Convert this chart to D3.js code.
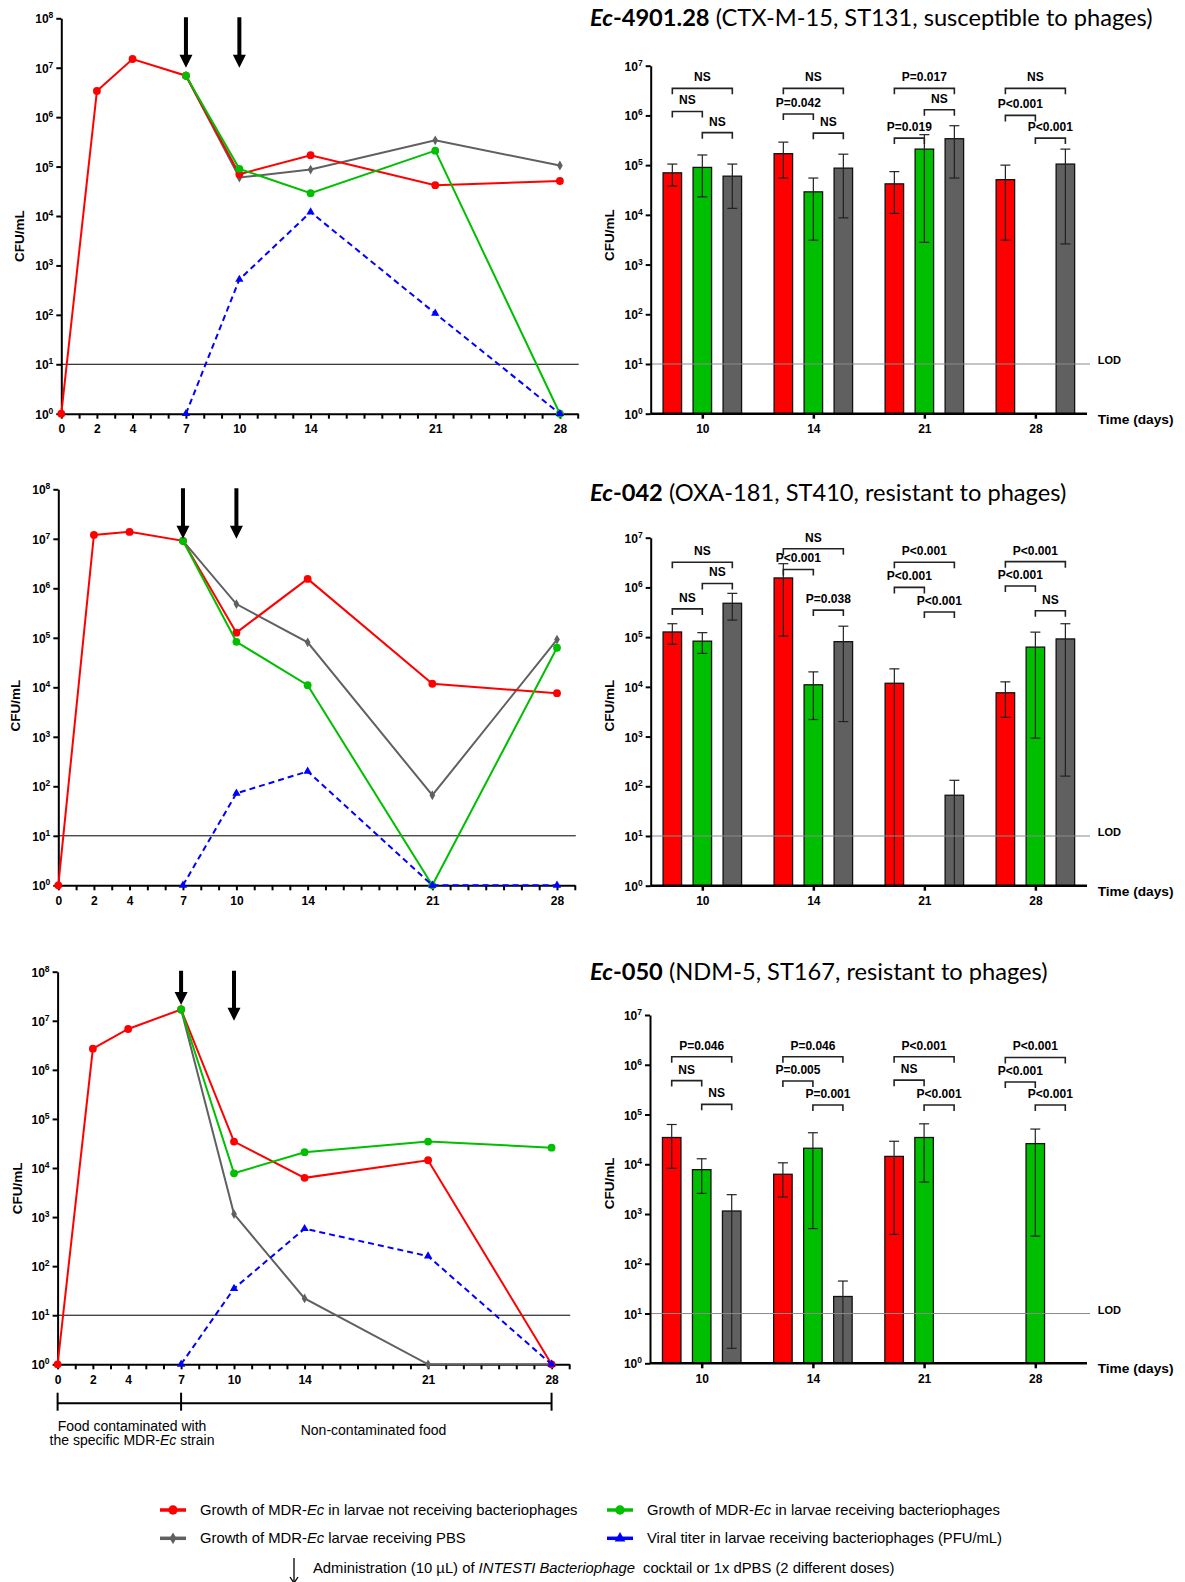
<!DOCTYPE html>
<html>
<head>
<meta charset="utf-8">
<script src="https://cdn.jsdelivr.net/npm/d3@7"></script>
<style>
  body { margin: 0; background: #fff; }
  svg { display: block; font-family: "Liberation Sans", Arial, sans-serif; }
</style>
</head>
<body>
<svg id="fig" width="1185" height="1582"></svg>
<script>
// sampling days and axis labels
const days = [0, 2, 4, 7, 10, 14, 21, 28];
const labeledDays = [0, 2, 4, 7, 10, 14, 21, 28];
const barDays = ["10", "14", "21", "28"];
const lineDecades = [1e0, 1e1, 1e2, 1e3, 1e4, 1e5, 1e6, 1e7, 1e8];
const barDecades = [1e0, 1e1, 1e2, 1e3, 1e4, 1e5, 1e6, 1e7];
const lod = 10;

// Ec-4901.28 (CFU/mL, 1 = not detected)
const red1 = [1, 3.4e6, 1.5e7, 6.9e6, 7.0e4, 1.7e5, 4.2e4, 5.1e4];
const green1 = [null, null, null, 6.9e6, 9.0e4, 2.9e4, 2.1e5, 1];
const gray1 = [null, null, null, 6.9e6, 6.0e4, 8.7e4, 3.4e5, 1.05e5];
const blue1 = [null, null, null, 1, 5.2e2, 1.2e4, 1.07e2, 1];
const redErr1 = [[3.8e4, 1.05e5], [5.5e4, 2.9e5], [1.07e4, 7.4e4], [3.1e3, 1.0e5]];
const greenErr1 = [[2.3e4, 1.6e5], [3.1e3, 5.5e4], [2.8e3, 4.1e5], null];
const grayErr1 = [[1.35e4, 1.05e5], [8.7e3, 1.66e5], [5.5e4, 6.2e5], [2.6e3, 2.1e5]];
// [time, bar a, bar b, label, level]
const brackets1 = [
  ["10", 0, 2, "NS", 3.5e6], ["10", 0, 1, "NS", 1.2e6], ["10", 1, 2, "NS", 4.5e5],
  ["14", 0, 2, "NS", 3.5e6], ["14", 0, 1, "P=0.042", 1.07e6], ["14", 1, 2, "NS", 4.4e5],
  ["21", 0, 2, "P=0.017", 3.5e6], ["21", 1, 2, "NS", 1.3e6], ["21", 0, 1, "P=0.019", 3.5e5],
  ["28", 0, 2, "NS", 3.5e6], ["28", 0, 1, "P<0.001", 1.0e6], ["28", 1, 2, "P<0.001", 3.5e5]
];
const arrows1 = [[7, 1e7], [10, 1e7]];

// Ec-042
const red2 = [1, 1.2e7, 1.38e7, 9.1e6, 1.27e5, 1.55e6, 1.18e4, 7.6e3];
const green2 = [null, null, null, 9.1e6, 8.3e4, 1.1e4, 1, 6.3e4];
const gray2 = [null, null, null, 9.1e6, 4.8e5, 8.1e4, 66, 9.2e4];
const blue2 = [null, null, null, 1, 72, 2.0e2, 1, 1];
const redErr2 = [[7.2e4, 1.86e5], [1.05e5, 3.0e6], [1, 2.3e4], [2.45e3, 1.26e4]];
const greenErr2 = [[4.7e4, 1.23e5], [2.2e3, 2.0e4], null, [9.3e2, 1.26e5]];
const grayErr2 = [[2.2e5, 7.6e5], [2.0e3, 1.66e5], [1, 1.32e2], [1.6e2, 1.86e5]];
const brackets2 = [
  ["10", 0, 2, "NS", 3.2e6], ["10", 1, 2, "NS", 1.2e6], ["10", 0, 1, "NS", 3.7e5],
  ["14", 0, 2, "NS", 6.0e6], ["14", 0, 1, "P<0.001", 2.3e6], ["14", 1, 2, "P=0.038", 3.5e5],
  ["21", 0, 2, "P<0.001", 3.2e6], ["21", 0, 1, "P<0.001", 1.0e6], ["21", 1, 2, "P<0.001", 3.2e5],
  ["28", 0, 2, "P<0.001", 3.3e6], ["28", 0, 1, "P<0.001", 1.07e6], ["28", 1, 2, "NS", 3.4e5]
];
const arrows2 = [[7, 1e7], [10, 1e7]];

// Ec-050
const red3 = [1, 2.7e6, 6.8e6, 1.7e7, 3.45e4, 6.3e3, 1.44e4, 1];
const green3 = [null, null, null, 1.7e7, 7.8e3, 2.1e4, 3.45e4, 2.6e4];
const gray3 = [null, null, null, 1.7e7, 1.15e3, 22, 1, 1];
const blue3 = [null, null, null, 1, 35, 5.8e2, 1.6e2, 1];
const redErr3 = [[8.3e3, 6.3e4], [2.2e3, 1.07e4], [3.9e2, 2.9e4], null];
const greenErr3 = [[2.6e3, 1.29e4], [5.1e2, 4.3e4], [4.4e3, 6.5e4], [3.6e2, 5.1e4]];
const grayErr3 = [[2, 2.45e3], [1, 45], null, null];
const brackets3 = [
  ["10", 0, 2, "P=0.046", 1.45e6], ["10", 0, 1, "NS", 4.8e5], ["10", 1, 2, "NS", 1.6e5],
  ["14", 0, 2, "P=0.046", 1.45e6], ["14", 0, 1, "P=0.005", 4.7e5], ["14", 1, 2, "P=0.001", 1.55e5],
  ["21", 0, 2, "P<0.001", 1.45e6], ["21", 0, 1, "NS", 4.9e5], ["21", 1, 2, "P<0.001", 1.55e5],
  ["28", 0, 2, "P<0.001", 1.4e6], ["28", 0, 1, "P<0.001", 4.5e5], ["28", 1, 2, "P<0.001", 1.55e5]
];
const arrows3 = [[7, 2.1e7], [10, 1e7]];

const titles = [
  ["Ec", "-4901.28", " (CTX-M-15, ST131, susceptible to phages)"],
  ["Ec", "-042", " (OXA-181, ST410, resistant to phages)"],
  ["Ec", "-050", " (NDM-5, ST167, resistant to phages)"]
];

const colors = { red: "#ff0000", green: "#00bf00", gray: "#606060", blue: "#0000ff" };

const panels = [
  { red: red1, green: green1, gray: gray1, blue: blue1, errs: [redErr1, greenErr1, grayErr1], brackets: brackets1, arrows: arrows1, title: titles[0],
    line: { x0: 61.3, x29: 577.7, top: 18.3, bottom: 413.7, labX: 18.8, labY: 236 },
    bar: { left: 650.7, right: 1087, top: 65.7, bottom: 413.7, labX: 609, labY: 235 }, titleBase: 26 },
  { red: red2, green: green2, gray: gray2, blue: blue2, errs: [redErr2, greenErr2, grayErr2], brackets: brackets2, arrows: arrows2, title: titles[1],
    line: { x0: 58.3, x29: 574.8, top: 489.3, bottom: 885.3, labX: 15, labY: 705.7 },
    bar: { left: 650.7, right: 1087, top: 537.7, bottom: 885.7, labX: 609, labY: 705.7 }, titleBase: 501 },
  { red: red3, green: green3, gray: gray3, blue: blue3, errs: [redErr3, greenErr3, grayErr3], brackets: brackets3, arrows: arrows3, title: titles[2],
    line: { x0: 57.6, x29: 569.2, top: 971.7, bottom: 1364.3, labX: 17, labY: 1188.3 },
    bar: { left: 650, right: 1087, top: 1015, bottom: 1363.3, labX: 609, labY: 1183.3 }, titleBase: 980 }
];

const svg = d3.select("#fig");

function powLabel(sel, v) {
    sel.append("tspan").text("10");
    sel.append("tspan").attr("dy", -5).attr("font-size", 8.5).text(Math.round(Math.log10(v)));
}

function yLabel(x, y) {
    svg.append("text")
        .attr("transform", `translate(${x + 4.7},${y}) rotate(-90)`)
        .attr("text-anchor", "middle")
        .attr("font-weight", "bold")
        .attr("font-size", 13.5)
        .text("CFU/mL");
}

function drawLinePanel(p) {
    const L = p.line;
    const x = d3.scaleLinear().domain([0, 29]).range([L.x0, L.x29]);
    const y = d3.scaleLog().domain([1, 1e8]).range([L.bottom, L.top]);
    const g = svg.append("g");

    g.append("line")
        .attr("x1", x(0)).attr("x2", x(29) + 1)
        .attr("y1", y(lod)).attr("y2", y(lod))
        .attr("stroke", "#000").attr("stroke-width", 1);

    const yAxis = g.append("g")
        .attr("transform", `translate(${x(0)},0)`)
        .call(d3.axisLeft(y).tickValues(lineDecades).tickSize(5).tickSizeOuter(0).tickFormat(""));
    yAxis.selectAll("path,line").attr("stroke", "#000").attr("stroke-width", 2);
    lineDecades.forEach(v => {
        g.append("text")
            .attr("x", x(0) - 8).attr("y", y(v) + 5)
            .attr("text-anchor", "end")
            .attr("font-weight", "bold").attr("font-size", 12)
            .call(powLabel, v);
    });

    const xAxis = g.append("g")
        .attr("transform", `translate(0,${L.bottom})`)
        .call(d3.axisBottom(x).tickValues(d3.range(0, 30)).tickSize(5).tickSizeOuter(0)
            .tickFormat(d => labeledDays.includes(d) ? d : ""));
    xAxis.selectAll("path,line").attr("stroke", "#000").attr("stroke-width", 2);
    xAxis.selectAll("text").attr("y", 11)
        .attr("font-family", "Liberation Sans, Arial, sans-serif")
        .attr("font-weight", "bold").attr("font-size", 12).attr("fill", "#000");

    yLabel(L.labX, L.labY);

    const series = [
        { v: p.gray, c: colors.gray, s: d3.symbolDiamond, size: 28, dash: null },
        { v: p.red, c: colors.red, s: d3.symbolCircle, size: 48, dash: null },
        { v: p.green, c: colors.green, s: d3.symbolCircle, size: 48, dash: null },
        { v: p.blue, c: colors.blue, s: d3.symbolTriangle, size: 30, dash: "6,4" }
    ];
    series.forEach(s => {
        const pts = days.map((d, i) => [d, s.v[i]]).filter(d => d[1] != null);
        g.append("path")
            .datum(pts)
            .attr("fill", "none")
            .attr("stroke", s.c)
            .attr("stroke-width", 2)
            .attr("stroke-dasharray", s.dash)
            .attr("d", d3.line().x(d => x(d[0])).y(d => y(d[1])));
        g.selectAll(null)
            .data(pts)
            .enter().append("path")
            .attr("transform", d => `translate(${x(d[0])},${y(d[1])})`)
            .attr("d", d3.symbol().type(s.s).size(s.size))
            .attr("fill", s.c);
    });

    // administration arrows
    p.arrows.forEach(a => {
        const ax = x(a[0]), tip = y(a[1]), top = y(1e8) - 1;
        g.append("path")
            .attr("d", `M${ax - 2},${top}H${ax + 2}V${tip - 13}H${ax + 6.5}L${ax},${tip}L${ax - 6.5},${tip - 13}H${ax - 2}Z`)
            .attr("fill", "#000");
    });
    return x;
}

function drawBarPanel(p) {
    const B = p.bar;
    const x = d3.scalePoint().domain(barDays).range([B.left, B.right]).padding(0.465);
    const y = d3.scaleLog().domain([1, 1e7]).range([B.bottom, B.top]);
    const offsets = [-30, 0, 30];
    const barW = 18.5;
    const g = svg.append("g");
    const groups = [
        { v: p.red.slice(4), c: colors.red, err: p.errs[0] },
        { v: p.green.slice(4), c: colors.green, err: p.errs[1] },
        { v: p.gray.slice(4), c: colors.gray, err: p.errs[2] }
    ];

    groups.forEach((grp, k) => {
        g.selectAll(null)
            .data(barDays.map((d, i) => ({ d: d, v: grp.v[i], e: grp.err[i] })).filter(o => o.v > 1))
            .enter().append("rect")
            .attr("x", o => x(o.d) + offsets[k] - barW / 2)
            .attr("width", barW)
            .attr("y", o => y(o.v))
            .attr("height", o => y(1) - y(o.v))
            .attr("fill", grp.c)
            .attr("stroke", "#111")
            .attr("stroke-width", 1.3);
    });

    groups.forEach((grp, k) => {
        barDays.forEach((d, i) => {
            const e = grp.err[i];
            if (!e) return;
            const cx = x(d) + offsets[k];
            g.append("line").attr("x1", cx).attr("x2", cx).attr("y1", y(e[0])).attr("y2", y(e[1]))
                .attr("stroke", "#222").attr("stroke-width", 1.2);
            g.append("line").attr("x1", cx - 5).attr("x2", cx + 5).attr("y1", y(e[1])).attr("y2", y(e[1]))
                .attr("stroke", "#222").attr("stroke-width", 1.2);
            if (e[0] > 1) {
                g.append("line").attr("x1", cx - 5).attr("x2", cx + 5).attr("y1", y(e[0])).attr("y2", y(e[0]))
                    .attr("stroke", "#222").attr("stroke-width", 1.2);
            }
        });
    });

    g.append("line")
        .attr("x1", B.left).attr("x2", B.right + 3)
        .attr("y1", y(lod)).attr("y2", y(lod))
        .attr("stroke", "#8a8a8a").attr("stroke-width", 1);
    g.append("text")
        .attr("x", B.right + 10.7).attr("y", y(lod) + 0.5)
        .attr("font-weight", "bold").attr("font-size", 11)
        .text("LOD");

    const yAxis = g.append("g")
        .attr("transform", `translate(${B.left},0)`)
        .call(d3.axisLeft(y).tickValues(barDecades).tickSize(5).tickSizeOuter(0).tickFormat(""));
    yAxis.selectAll("path,line").attr("stroke", "#000").attr("stroke-width", 2);
    barDecades.forEach(v => {
        g.append("text")
            .attr("x", B.left - 8).attr("y", y(v) + 5)
            .attr("text-anchor", "end")
            .attr("font-weight", "bold").attr("font-size", 12)
            .call(powLabel, v);
    });

    const xAxis = g.append("g")
        .attr("transform", `translate(0,${B.bottom})`)
        .call(d3.axisBottom(x).tickSize(5).tickSizeOuter(0));
    xAxis.select(".domain").attr("d", `M${B.left},0H${B.right}`);
    xAxis.selectAll("path,line").attr("stroke", "#000").attr("stroke-width", 2.5);
    xAxis.selectAll("text").attr("y", 11)
        .attr("font-family", "Liberation Sans, Arial, sans-serif")
        .attr("font-weight", "bold").attr("font-size", 12).attr("fill", "#000");

    g.append("text")
        .attr("x", B.right + 10.7).attr("y", B.bottom + 10)
        .attr("font-weight", "bold").attr("font-size", 13.7)
        .text("Time (days)");

    yLabel(B.labX, B.labY);

    p.brackets.forEach(b => {
        const x1 = x(b[0]) + offsets[b[1]], x2 = x(b[0]) + offsets[b[2]], by = y(b[4]);
        g.append("path")
            .attr("d", `M${x1},${by + 6}V${by}H${x2}V${by + 6}`)
            .attr("fill", "none").attr("stroke", "#222").attr("stroke-width", 1.6);
        g.append("text")
            .attr("x", (x1 + x2) / 2).attr("y", by - 7)
            .attr("text-anchor", "middle")
            .attr("font-weight", "bold").attr("font-size", 12)
            .text(b[3]);
    });
}

function drawTitle(p, size) {
    const t = svg.append("text")
        .attr("x", 590).attr("y", p.titleBase)
        .attr("font-family", "Lato, 'Open Sans', sans-serif")
        .attr("font-size", size);
    t.append("tspan").attr("font-weight", "bold").attr("font-style", "italic").text(p.title[0]);
    t.append("tspan").attr("font-weight", "bold").text(p.title[1]);
    t.append("tspan").text(p.title[2]);
    return t;
}

let lineX;
panels.forEach(p => {
    lineX = drawLinePanel(p);
    drawBarPanel(p);
});

// fit title size to the width of the first title
const probe = drawTitle(panels[0], 22);
const titleSize = 22 * 563 / probe.node().getComputedTextLength();
probe.remove();
panels.forEach(p => drawTitle(p, titleSize));

// timeline under the last line chart
const tl = svg.append("g").attr("stroke", "#000").attr("stroke-width", 2);
tl.append("line").attr("x1", lineX(0)).attr("x2", lineX(28)).attr("y1", 1403.3).attr("y2", 1403.3);
[0, 7, 28].forEach(d => {
    tl.append("line").attr("x1", lineX(d)).attr("x2", lineX(d)).attr("y1", 1392.7).attr("y2", 1410.7);
});
const foodText = svg.append("g").attr("font-size", 14).attr("text-anchor", "middle");
foodText.append("text").attr("x", 132).attr("y", 1430.7).text("Food contaminated with");
const line2 = foodText.append("text").attr("x", 132).attr("y", 1445);
line2.append("tspan").text("the specific MDR-");
line2.append("tspan").attr("font-style", "italic").text("Ec");
line2.append("tspan").text(" strain");
foodText.append("text").attr("x", 373.5).attr("y", 1435).text("Non-contaminated food");

// legend
const legendItems = [
    { c: colors.red, s: d3.symbolCircle, size: 70, x: 173, y: 1510, pre: "Growth of MDR-", post: " in larvae not receiving bacteriophages" },
    { c: colors.green, s: d3.symbolCircle, size: 70, x: 620, y: 1510, pre: "Growth of MDR-", post: " in larvae receiving bacteriophages" },
    { c: colors.gray, s: d3.symbolDiamond, size: 40, x: 173, y: 1538.3, pre: "Growth of MDR-", post: " larvae receiving PBS" },
    { c: colors.blue, s: d3.symbolTriangle, size: 50, x: 620, y: 1538.3, pre: "Viral titer in larvae receiving bacteriophages (PFU/mL)", post: null }
];
legendItems.forEach(it => {
    svg.append("line").attr("x1", it.x - 13).attr("x2", it.x + 13).attr("y1", it.y).attr("y2", it.y)
        .attr("stroke", it.c).attr("stroke-width", 3.5);
    svg.append("path").attr("transform", `translate(${it.x},${it.y})`)
        .attr("d", d3.symbol().type(it.s).size(it.size)).attr("fill", it.c);
    const t = svg.append("text").attr("x", it.x + 27).attr("y", it.y + 5).attr("font-size", 14.8);
    t.append("tspan").text(it.pre);
    if (it.post) {
        t.append("tspan").attr("font-style", "italic").text("Ec");
        t.append("tspan").text(it.post);
    }
});

svg.append("path").attr("d", "M294,1558V1582").attr("stroke", "#000").attr("stroke-width", 1.3);
svg.append("path").attr("d", "M290,1577L294,1583L298,1577").attr("fill", "none").attr("stroke", "#000").attr("stroke-width", 1.3);
const adm = svg.append("text").attr("x", 313).attr("y", 1573).attr("font-size", 14.8);
adm.append("tspan").text("Administration (10 µL) of ");
adm.append("tspan").attr("font-style", "italic").text("INTESTI Bacteriophage");
adm.append("tspan").attr("dx", 4).text(" cocktail or 1x dPBS (2 different doses)");
</script>
</body>
</html>
